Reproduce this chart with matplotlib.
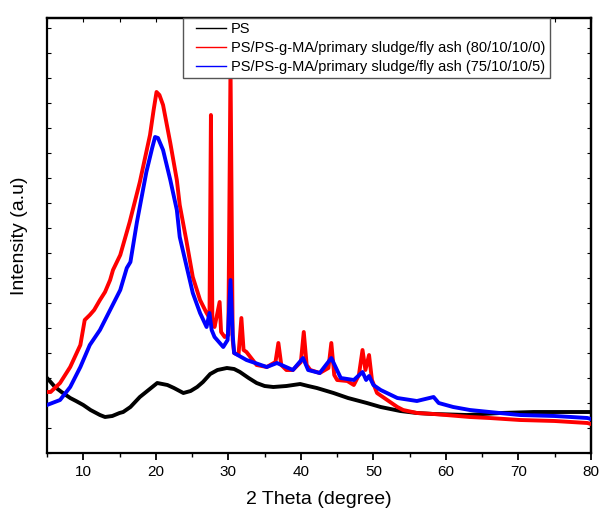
import matplotlib
matplotlib.use("Agg")
import matplotlib.pyplot as plt
from matplotlib.ticker import MultipleLocator, NullFormatter
from matplotlib.lines import Line2D
from matplotlib.legend_handler import HandlerLine2D

plt.rcParams['font.family'] = ['Liberation Sans', 'DejaVu Sans']

# ---- data (2 theta, intensity in arbitrary units) ----
ps_x = [5, 5.5, 6.1, 7, 8.2, 9, 10, 11, 12.3, 13, 14, 15, 15.5, 16.5, 17.8, 19, 20.2,
        21.6, 22.5, 23.8, 24.8, 25.7, 26.5, 27.5, 28.5, 29.8, 30.8, 31.6, 32.8, 33.9,
        35, 36.2, 38, 39.9, 41, 42.2, 44.5, 46.5, 49.1, 51, 53.7, 56, 58.3, 62.9,
        67.5, 72.1, 76, 80]
ps_y = [75, 71, 66, 61, 55, 52, 48, 43, 38, 36, 37, 40, 41, 46, 56, 63, 70,
        68, 65, 60, 62, 66, 71, 79, 83, 85, 84, 81, 75, 70,
        67, 66, 67, 69, 67, 65, 60, 55, 50, 46, 42, 40, 39, 38,
        40, 41, 41, 41]

red_x = [5, 5.5, 6.8, 8.2, 9.6, 10.2, 10.9, 11.5, 12.3, 13, 13.7, 14.1, 15.1, 16.4,
         17.8, 19.2, 19.7, 20.1, 20.5, 21, 22, 22.9, 23.3, 24.2, 25.1, 26.1, 27, 27.4,
         27.6, 27.8, 28.1, 28.8, 29.0, 29.5, 30.0, 30.3, 30.6, 30.8, 31.4, 31.8, 32.1,
         32.5, 33.9, 35.3, 36.5, 36.9, 37.3, 38, 38.9, 40.0, 40.4, 40.8, 41.3, 42.6,
         43.8, 44.2, 44.6, 45, 46.4, 47.3, 48.0, 48.5, 48.9, 49.4, 49.8, 50.5, 51.9,
         53.3, 54.1, 56, 58.3, 60, 63.3, 66, 70.2, 75, 79.5, 80]
red_y = [61, 61, 70, 86, 108, 133, 138, 143, 153, 161, 173, 183, 198, 231,
         271, 318, 343, 361, 358, 348, 310, 273, 248, 213, 176, 153, 140, 135,
         338, 131, 126, 151, 121, 116, 118, 388, 113, 100, 98, 135, 103,
         101, 88, 86, 91, 110, 88, 83, 83, 91, 121, 88, 83, 80,
         85, 110, 78, 73, 72, 68, 78, 103, 83, 98, 73, 60, 53,
         46, 43, 40, 39, 38, 36, 35, 33, 32, 30, 29]

blue_x = [5, 6.8, 8.2, 9.6, 10.9, 12.3, 13.7, 15.1, 16.0, 16.5, 17.4, 18.7, 19.5,
          19.9, 20.3, 21, 22, 22.9, 23.3, 24.2, 25.1, 26.1, 27, 27.4, 27.7, 28.1,
          29.3, 29.9, 30.3, 30.6, 30.8, 32.5, 35.3, 36.7, 38.9, 40.3, 41.0, 42.6,
          44.2, 45.5, 47.3, 48.5, 49.0, 49.4, 50.0, 51.0, 53.3, 56, 58.3, 59, 61,
          63.3, 66, 70.2, 75, 79.5, 80]
blue_y = [48, 53, 66, 86, 108, 123, 143, 163, 185, 191, 231, 281, 305,
          316, 315, 303, 273, 243, 216, 188, 160, 140, 126, 140, 123, 116,
          106, 113, 173, 118, 100, 93, 86, 90, 83, 95, 83, 80,
          95, 75, 73, 81, 73, 77, 68, 63, 55, 52, 56, 50, 46,
          43, 41, 38, 37, 35, 34]

labels = ["PS",
          "PS/PS-g-MA/primary sludge/fly ash (80/10/10/0)",
          "PS/PS-g-MA/primary sludge/fly ash (75/10/10/5)"]
colors = ["black", "#ff0000", "#0000ff"]

fig = plt.figure(figsize=(5.99, 5.15), dpi=100)
ax = fig.add_axes([47/599, 1-453/515, 544/599, 435/515])

ax.plot(ps_x, ps_y, color=colors[0], lw=2.8, zorder=2)
ax.plot(red_x, red_y, color=colors[1], lw=2.8, zorder=3)
ax.plot(blue_x, blue_y, color=colors[2], lw=2.8, zorder=4)

ax.set_xlim(5, 80)
ax.set_ylim(0, 435)

ax.xaxis.set_major_locator(MultipleLocator(10))
ax.xaxis.set_minor_locator(MultipleLocator(5))
ax.yaxis.set_major_locator(MultipleLocator(50))
ax.yaxis.set_minor_locator(MultipleLocator(25))
ax.yaxis.set_major_formatter(NullFormatter())

ax.tick_params(axis='x', which='major', direction='out', length=5, width=1.3,
               labelsize=11, pad=4)
ax.tick_params(axis='x', which='minor', direction='out', length=3, width=1.0)
ax.tick_params(axis='y', which='both', direction='in', length=3, width=0.8)
for s in ax.spines.values():
    s.set_linewidth(1.6)

sec_top = ax.secondary_xaxis('top')
sec_top.xaxis.set_major_locator(MultipleLocator(10))
sec_top.xaxis.set_minor_locator(MultipleLocator(5))
sec_top.tick_params(which='both', direction='in', length=3, width=0.8, labeltop=False)
sec_top.spines['top'].set_linewidth(1.6)

sec_right = ax.secondary_yaxis('right')
sec_right.yaxis.set_major_locator(MultipleLocator(50))
sec_right.yaxis.set_minor_locator(MultipleLocator(25))
sec_right.tick_params(which='both', direction='in', length=3, width=0.8, labelright=False)
sec_right.spines['right'].set_linewidth(1.6)

ax.set_xlabel("2 Theta (degree)", fontsize=14, labelpad=8)
ax.set_ylabel("Intensity (a.u)", fontsize=14, labelpad=10)

handles = [Line2D([], [], color=c, lw=1.0) for c in colors]
leg = ax.legend(handles, labels, loc='upper left', bbox_to_anchor=(0.25, 1.0),
                borderaxespad=0, fontsize=10.5, frameon=True, fancybox=False,
                edgecolor='#555555', framealpha=1, handlelength=2.65,
                handletextpad=0.35, borderpad=0.3, labelspacing=0.33,
                handler_map={Line2D: HandlerLine2D(xpad=0.6)})
leg.get_frame().set_linewidth(1.0)
leg.set_zorder(10)

fig.savefig("out.png", dpi=100)
